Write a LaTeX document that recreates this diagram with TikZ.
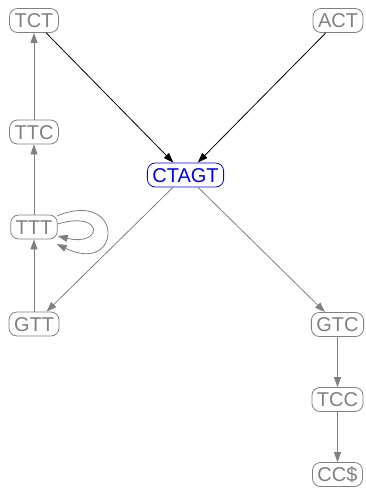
\documentclass[tikz,border=0pt]{standalone}
\usepackage{fontspec}
\setmainfont{Liberation Sans}
\usetikzlibrary{arrows.meta}
\tikzset{kmer/.style={draw=gray, text=gray, rounded corners=8pt, line width=0.8pt,
    font=\fontsize{20}{22}\selectfont, inner xsep=5pt, inner ysep=0pt,
    minimum height=24pt, text height=14.5pt, text depth=0pt},
  arc/.style={gray, line width=0.8pt, -{Triangle[length=10pt,width=7pt]}}}

\begin{document}
\begin{tikzpicture}[x=1pt,y=-1pt]
\useasboundingbox (0,0) rectangle (365,490);
\foreach \n/\x/\y/\t in {tct/34/20.5/TCT, act/338/20.5/ACT, ttc/34/132/TTC,
  ttt/34/227/TTT, gtt/34/324/GTT, gtc/337.5/324.5/GTC, tcc/337.5/399.5/TCC,
  ccd/337.5/474.5/CC\$}{
  \node[kmer] (\n) at (\x,\y) {\t};
}
\node[kmer, draw=blue, text=blue] (ctagt) at (185.5,175) {CTAGT};
% into the centre node
\draw[arc, black] (tct) -- (ctagt);
\draw[arc, black] (act) -- (ctagt);
% out of it
\draw[arc] (ctagt) -- (gtt);
\draw[arc] (ctagt) -- (gtc);
\foreach \x/\y in {gtt/ttt,ttt/ttc,ttc/tct,gtc/tcc,tcc/ccd}{
  \draw[arc] (\x) -- (\y);
}
% loops on TTT
\draw[arc] ([yshift=3pt]ttt.east) .. controls +(47,-14) and +(45,11) .. ([yshift=-9pt]ttt.east);
\draw[arc] ([xshift=-1pt,yshift=11pt]ttt.east) .. controls +(68,-28) and +(66,32) .. ([xshift=-1pt,yshift=-17pt]ttt.east);
\end{tikzpicture}
\end{document}
